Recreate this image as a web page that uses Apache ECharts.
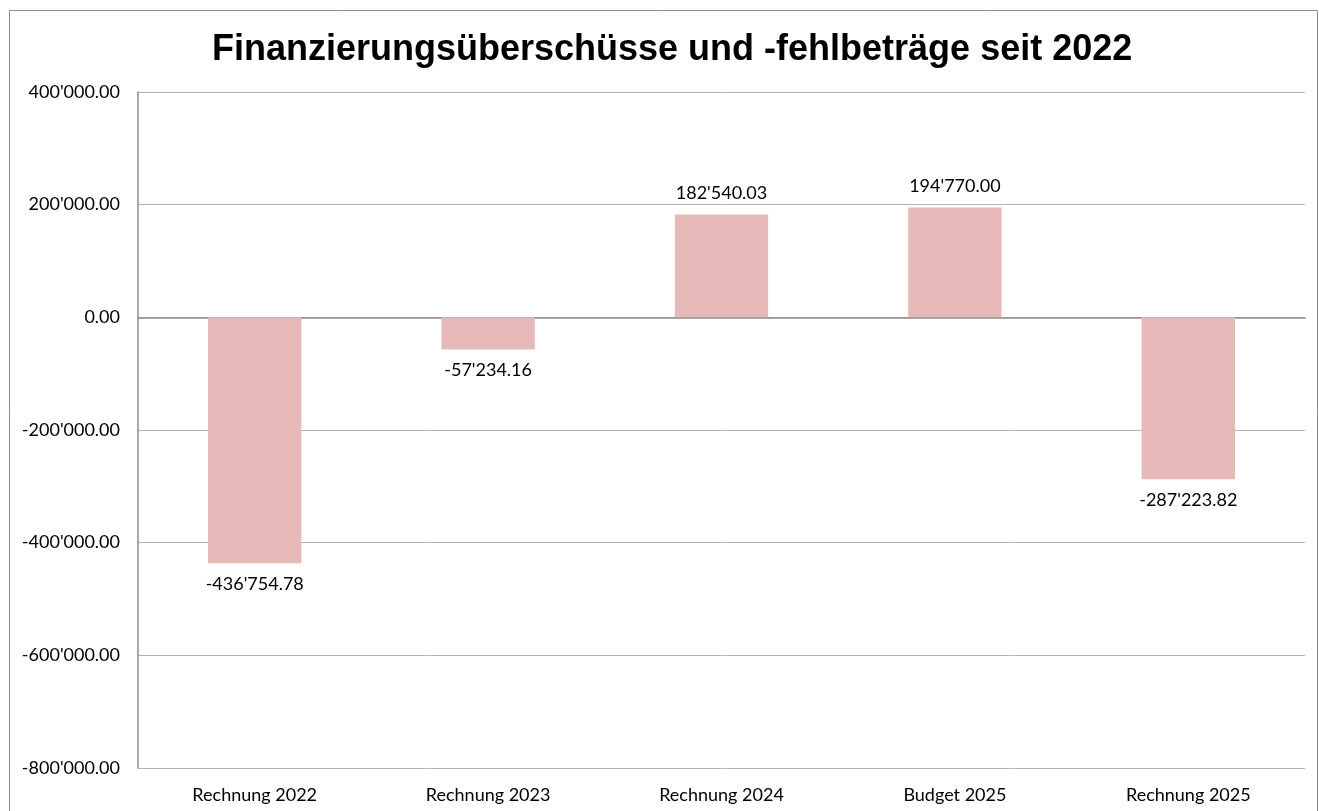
<!DOCTYPE html>
<html>
<head>
<meta charset="utf-8">
<script src="https://cdn.jsdelivr.net/npm/echarts@6/dist/echarts.min.js"></script>
<style>
  html, body { margin: 0; padding: 0; background: #fff; }
  #chart { width: 1319px; height: 811px; }
</style>
</head>
<body>
<div id="chart"></div>
<script>
const categories = ['Rechnung 2022', 'Rechnung 2023', 'Rechnung 2024', 'Budget 2025', 'Rechnung 2025']
const values = [-436754.78, -57234.16, 182540.03, 194770.00, -287223.82]
const yMin = -800000
const yMax = 400000
const yStep = 200000

// 1234567.8 -> 1'234'567.80
function swissFormat(v) {
  const neg = v < 0
  const parts = Math.abs(v).toFixed(2).split('.')
  const int = parts[0].replace(/\B(?=(\d{3})+(?!\d))/g, "'")
  return (neg ? '-' : '') + int + '.' + parts[1]
}

const chart = echarts.init(document.getElementById('chart'))

const labelFont = 'Lato, "Open Sans", sans-serif'

chart.setOption({
  animation: false,
  title: {
    text: 'Finanzierungsüberschüsse und -fehlbeträge seit 2022',
    left: 207,
    top: 27,
    textStyle: {
      fontFamily: 'Liberation Sans, Arial, sans-serif',
      fontWeight: 'bold',
      fontSize: 36,
      color: '#000'
    }
  },
  graphic: [{
    type: 'rect',
    shape: { x: 9.5, y: 10.5, width: 1308, height: 820 },
    style: { fill: 'none', stroke: '#8c8c8c', lineWidth: 1 },
    silent: true
  }],
  grid: { left: 138, right: 14, top: 92, bottom: 43 },
  xAxis: {
    type: 'category',
    data: categories,
    axisLine: { show: true, onZero: true, lineStyle: { color: '#8c8c8c', width: 1.5 } },
    axisTick: { show: false },
    axisLabel: {
      margin: 18,
      fontFamily: labelFont,
      fontSize: 18,
      color: '#000'
    }
  },
  yAxis: {
    type: 'value',
    min: yMin,
    max: yMax,
    interval: yStep,
    axisLine: { show: true, lineStyle: { color: '#8c8c8c', width: 1.5 } },
    axisTick: { show: false },
    splitLine: { lineStyle: { color: '#b4b4b4', width: 1 } },
    axisLabel: {
      margin: 18,
      fontFamily: labelFont,
      fontSize: 18,
      color: '#000',
      formatter: (v) => swissFormat(v)
    }
  },
  series: [{
    type: 'bar',
    data: values.map((v) => ({
      value: v,
      // negative values get their label below the bar end
      label: { position: v < 0 ? 'bottom' : 'top' }
    })),
    barWidth: '40%',
    itemStyle: { color: '#e6b8b7' },
    label: {
      show: true,
      fontFamily: labelFont,
      fontSize: 18,
      color: '#000',
      distance: 12,
      formatter: (p) => swissFormat(p.value)
    }
  }]
})
</script>
</body>
</html>
